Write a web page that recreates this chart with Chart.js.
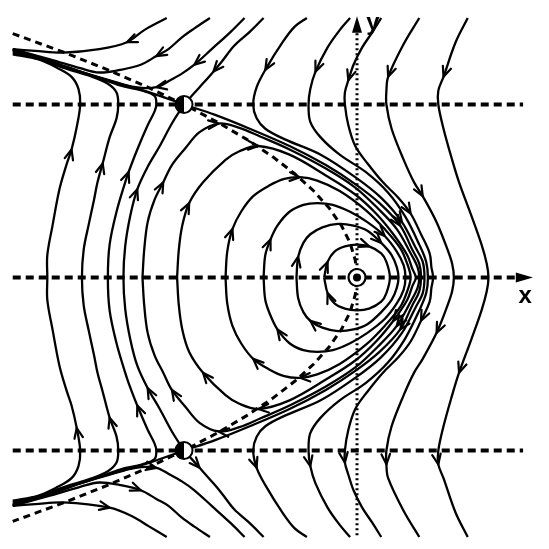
<!DOCTYPE html>
<html>
<head>
<meta charset="utf-8">
<title>Phase portrait</title>
<script src="https://cdn.jsdelivr.net/npm/chart.js@4.4.1/dist/chart.umd.min.js"></script>
<style>
  html, body { margin: 0; padding: 0; background: #fff; }
  #wrap { width: 549px; height: 549px; }
</style>
</head>
<body>
<div id="wrap"><canvas id="phase" width="549" height="549"></canvas></div>
<script>
// plot window
const xRange = [-2, 1];
const yRange = [-1.5, 1.5];

// equilibria
const saddles = [[-1, 1], [-1, -1]];
const centre = [0, 0];

// dashed guide lines
const lineYTop = [[-1.99, 1], [0.96, 1]];
const lineYBottom = [[-1.99, -1], [0.96, -1]];
const xAxisLine = [[-1.99, 0], [0.92, 0]];
const yAxisLine = [[0, -1.49], [0, 1.42]];
const parabola = [[-1.99, 1.41], [-1.69, 1.30], [-1.44, 1.20], [-1.21, 1.10], [-1.00, 1.00], [-0.81, 0.90],
  [-0.64, 0.80], [-0.49, 0.70], [-0.36, 0.60], [-0.25, 0.50], [-0.16, 0.40], [-0.09, 0.30], [-0.04, 0.20],
  [-0.01, 0.10], [0, 0], [-0.01, -0.10], [-0.04, -0.20], [-0.09, -0.30], [-0.16, -0.40], [-0.25, -0.50],
  [-0.36, -0.60], [-0.49, -0.70], [-0.64, -0.80], [-0.81, -0.90], [-1.00, -1.00], [-1.21, -1.10],
  [-1.44, -1.20], [-1.69, -1.30], [-1.99, -1.41]];

// trajectories, in the order of the flow
const topLeft1 = [[-1.10, 1.50], [-1.23, 1.43], [-1.33, 1.36], [-1.49, 1.32], [-1.70, 1.30], [-1.86, 1.31], [-1.99, 1.32]];
const topLeft2 = [[-0.85, 1.50], [-0.94, 1.44], [-1.01, 1.39], [-1.09, 1.32], [-1.16, 1.28], [-1.25, 1.23], [-1.37, 1.20],
  [-1.49, 1.185], [-1.60, 1.21], [-1.77, 1.26], [-1.99, 1.32]];
const topLeft3 = [[-0.65, 1.50], [-0.73, 1.42], [-0.84, 1.32], [-0.94, 1.23], [-1.01, 1.18], [-1.08, 1.14], [-1.16, 1.10],
  [-1.28, 1.10], [-1.43, 1.14], [-1.60, 1.19], [-1.77, 1.245], [-1.99, 1.315]];
const stableTop = [[-0.54, 1.50], [-0.62, 1.42], [-0.71, 1.34], [-0.78, 1.25], [-0.83, 1.19], [-0.91, 1.10], [-1.00, 1.00]];
const unstableLeftTop = [[-1.00, 1.00], [-1.20, 1.07], [-1.37, 1.12], [-1.54, 1.17], [-1.77, 1.25], [-1.99, 1.32]];

const botLeft1 = [[-1.99, -1.32], [-1.86, -1.31], [-1.70, -1.30], [-1.43, -1.33], [-1.30, -1.38], [-1.20, -1.44], [-1.10, -1.50]];
const botLeft2 = [[-1.99, -1.32], [-1.77, -1.26], [-1.60, -1.21], [-1.49, -1.185], [-1.37, -1.20], [-1.25, -1.23],
  [-1.16, -1.28], [-1.09, -1.32], [-1.01, -1.39], [-0.94, -1.44], [-0.85, -1.50]];
const botLeft3 = [[-1.99, -1.315], [-1.77, -1.245], [-1.60, -1.19], [-1.43, -1.14], [-1.28, -1.10], [-1.16, -1.10],
  [-1.08, -1.14], [-1.01, -1.18], [-0.94, -1.23], [-0.84, -1.32], [-0.73, -1.42], [-0.65, -1.50]];
const unstableBot = [[-1.00, -1.00], [-0.91, -1.10], [-0.83, -1.19], [-0.78, -1.25], [-0.71, -1.34], [-0.62, -1.42], [-0.54, -1.50]];
const stableLeftBot = [[-1.99, -1.32], [-1.77, -1.25], [-1.54, -1.17], [-1.37, -1.12], [-1.20, -1.07], [-1.00, -1.00]];

const outer1 = [[-0.29, 1.50], [-0.36, 1.45], [-0.43, 1.36], [-0.53, 1.20], [-0.58, 1.10], [-0.60, 1.00], [-0.58, 0.92],
  [-0.53, 0.86], [-0.42, 0.80], [-0.21, 0.71], [-0.01, 0.58], [0.14, 0.46], [0.26, 0.32], [0.34, 0.17], [0.38, 0.09],
  [0.39, 0], [0.38, -0.09], [0.34, -0.17], [0.26, -0.32], [0.14, -0.46], [-0.01, -0.58], [-0.21, -0.71], [-0.42, -0.80],
  [-0.53, -0.86], [-0.58, -0.92], [-0.60, -1.00], [-0.58, -1.10], [-0.53, -1.20], [-0.43, -1.36], [-0.36, -1.45], [-0.29, -1.50]];
const outer2 = [[-0.04, 1.50], [-0.10, 1.43], [-0.17, 1.33], [-0.24, 1.19], [-0.27, 1.09], [-0.28, 1.00], [-0.27, 0.90],
  [-0.21, 0.81], [-0.10, 0.71], [0.05, 0.61], [0.18, 0.49], [0.28, 0.35], [0.36, 0.19], [0.40, 0.09], [0.41, 0],
  [0.40, -0.09], [0.36, -0.19], [0.28, -0.35], [0.18, -0.49], [0.05, -0.61], [-0.10, -0.71], [-0.21, -0.81], [-0.27, -0.90],
  [-0.28, -1.00], [-0.27, -1.09], [-0.24, -1.19], [-0.17, -1.33], [-0.10, -1.43], [-0.04, -1.50]];
const outer3 = [[0.14, 1.50], [0.09, 1.42], [0.03, 1.33], [-0.02, 1.23], [-0.05, 1.14], [-0.07, 1.07], [-0.07, 1.00],
  [-0.05, 0.88], [-0.01, 0.76], [0.06, 0.66], [0.15, 0.55], [0.24, 0.46], [0.31, 0.37], [0.37, 0.25], [0.42, 0.14],
  [0.43, 0.06], [0.44, 0], [0.43, -0.06], [0.42, -0.14], [0.37, -0.25], [0.31, -0.37], [0.24, -0.46], [0.15, -0.55],
  [0.06, -0.66], [-0.01, -0.76], [-0.05, -0.88], [-0.07, -1.00], [-0.07, -1.07], [-0.05, -1.14], [-0.02, -1.23],
  [0.03, -1.33], [0.09, -1.42], [0.14, -1.50]];
const right1 = [[0.36, 1.50], [0.27, 1.35], [0.18, 1.16], [0.17, 1.08], [0.17, 1.00], [0.20, 0.86], [0.27, 0.68],
  [0.33, 0.55], [0.38, 0.47], [0.46, 0.32], [0.52, 0.17], [0.55, 0.08], [0.56, 0], [0.55, -0.08], [0.52, -0.17],
  [0.46, -0.32], [0.38, -0.47], [0.33, -0.55], [0.27, -0.68], [0.20, -0.86], [0.17, -1.00], [0.17, -1.08],
  [0.18, -1.16], [0.27, -1.35], [0.36, -1.50]];
const right2 = [[0.64, 1.50], [0.57, 1.36], [0.50, 1.16], [0.47, 1.08], [0.47, 1.00], [0.50, 0.86], [0.55, 0.68],
  [0.59, 0.55], [0.66, 0.36], [0.72, 0.19], [0.75, 0.08], [0.76, 0], [0.75, -0.08], [0.72, -0.19], [0.66, -0.36],
  [0.59, -0.55], [0.55, -0.68], [0.50, -0.86], [0.47, -1.00], [0.47, -1.08], [0.50, -1.16], [0.57, -1.36], [0.64, -1.50]];

const sepRight = [[-1.00, 1.00], [-0.82, 0.94], [-0.62, 0.86], [-0.39, 0.76], [-0.18, 0.65], [-0.01, 0.54], [0.13, 0.43],
  [0.25, 0.30], [0.32, 0.16], [0.36, 0.08], [0.37, 0], [0.36, -0.08], [0.32, -0.16], [0.25, -0.30], [0.13, -0.43],
  [-0.01, -0.54], [-0.18, -0.65], [-0.39, -0.76], [-0.62, -0.86], [-0.82, -0.94], [-1.00, -1.00]];
const sepLeft = [[-1.00, -1.00], [-1.07, -0.89], [-1.14, -0.76], [-1.21, -0.64], [-1.27, -0.51], [-1.31, -0.36],
  [-1.34, -0.18], [-1.35, 0], [-1.34, 0.18], [-1.31, 0.36], [-1.27, 0.51], [-1.21, 0.64], [-1.14, 0.76], [-1.07, 0.89], [-1.00, 1.00]];

const left1 = [[-1.99, -1.29], [-1.84, -1.26], [-1.73, -1.21], [-1.65, -1.16], [-1.61, -1.09], [-1.60, -1.00], [-1.62, -0.87],
  [-1.65, -0.74], [-1.68, -0.65], [-1.72, -0.51], [-1.76, -0.30], [-1.79, -0.13], [-1.79, 0], [-1.79, 0.13], [-1.76, 0.30],
  [-1.72, 0.51], [-1.68, 0.65], [-1.65, 0.74], [-1.62, 0.87], [-1.60, 1.00], [-1.61, 1.09], [-1.65, 1.16], [-1.73, 1.21],
  [-1.84, 1.26], [-1.99, 1.29]];
const left2 = [[-1.99, -1.30], [-1.83, -1.26], [-1.69, -1.21], [-1.53, -1.16], [-1.44, -1.12], [-1.39, -1.07], [-1.38, -1.00],
  [-1.39, -0.92], [-1.43, -0.81], [-1.47, -0.66], [-1.50, -0.55], [-1.52, -0.45], [-1.55, -0.31], [-1.58, -0.16], [-1.59, 0],
  [-1.58, 0.16], [-1.55, 0.31], [-1.52, 0.45], [-1.50, 0.55], [-1.47, 0.66], [-1.43, 0.81], [-1.39, 0.92], [-1.38, 1.00],
  [-1.39, 1.07], [-1.44, 1.12], [-1.53, 1.16], [-1.69, 1.21], [-1.83, 1.26], [-1.99, 1.30]];
const left3 = [[-1.99, -1.31], [-1.83, -1.26], [-1.69, -1.215], [-1.51, -1.16], [-1.37, -1.11], [-1.24, -1.08], [-1.17, -1.05],
  [-1.16, -1.00], [-1.17, -0.96], [-1.21, -0.88], [-1.27, -0.74], [-1.32, -0.61], [-1.34, -0.55], [-1.39, -0.38], [-1.43, -0.19],
  [-1.44, 0], [-1.43, 0.19], [-1.39, 0.38], [-1.34, 0.55], [-1.32, 0.61], [-1.27, 0.74], [-1.21, 0.88], [-1.17, 0.96],
  [-1.16, 1.00], [-1.17, 1.05], [-1.24, 1.08], [-1.37, 1.11], [-1.51, 1.16], [-1.69, 1.215], [-1.83, 1.26], [-1.99, 1.31]];

// closed orbits round the centre (clockwise)
const orbitA = [[-1.24, 0], [-1.23, 0.16], [-1.21, 0.32], [-1.17, 0.45], [-1.12, 0.55], [-1.07, 0.65], [-0.99, 0.75],
  [-0.91, 0.84], [-0.80, 0.89], [-0.68, 0.865], [-0.56, 0.815], [-0.39, 0.74], [-0.18, 0.63], [-0.01, 0.52], [0.12, 0.40],
  [0.23, 0.28], [0.31, 0.14], [0.35, 0.06], [0.36, 0], [0.35, -0.06], [0.31, -0.14], [0.23, -0.28], [0.12, -0.40],
  [-0.01, -0.52], [-0.18, -0.63], [-0.39, -0.74], [-0.56, -0.815], [-0.68, -0.865], [-0.80, -0.89], [-0.91, -0.84],
  [-0.99, -0.75], [-1.07, -0.65], [-1.12, -0.55], [-1.17, -0.45], [-1.21, -0.32], [-1.23, -0.16], [-1.24, 0]];
const orbitB = [[-1.04, 0], [-1.03, 0.16], [-1.01, 0.30], [-0.97, 0.43], [-0.89, 0.55], [-0.76, 0.68], [-0.68, 0.73],
  [-0.57, 0.76], [-0.39, 0.71], [-0.18, 0.59], [-0.01, 0.48], [0.11, 0.37], [0.21, 0.25], [0.29, 0.13], [0.32, 0.05],
  [0.34, 0], [0.32, -0.05], [0.29, -0.13], [0.21, -0.25], [0.11, -0.37], [-0.01, -0.48], [-0.18, -0.59], [-0.39, -0.71],
  [-0.57, -0.76], [-0.68, -0.73], [-0.76, -0.68], [-0.89, -0.55], [-0.97, -0.43], [-1.01, -0.30], [-1.03, -0.16], [-1.04, 0]];
const orbitC = [[-0.76, 0], [-0.75, 0.15], [-0.72, 0.28], [-0.67, 0.38], [-0.60, 0.47], [-0.51, 0.53], [-0.42, 0.57],
  [-0.33, 0.58], [-0.23, 0.56], [-0.10, 0.50], [0.05, 0.39], [0.16, 0.28], [0.25, 0.17], [0.29, 0.08], [0.31, 0],
  [0.29, -0.08], [0.25, -0.17], [0.16, -0.28], [0.05, -0.39], [-0.10, -0.50], [-0.23, -0.56], [-0.33, -0.58],
  [-0.42, -0.57], [-0.51, -0.53], [-0.60, -0.47], [-0.67, -0.38], [-0.72, -0.28], [-0.75, -0.15], [-0.76, 0]];
const orbitD = [[-0.54, 0], [-0.53, 0.13], [-0.50, 0.22], [-0.46, 0.30], [-0.39, 0.38], [-0.31, 0.42], [-0.23, 0.43],
  [-0.14, 0.42], [-0.04, 0.38], [0.06, 0.32], [0.16, 0.24], [0.23, 0.15], [0.27, 0.07], [0.28, 0], [0.27, -0.07],
  [0.23, -0.15], [0.16, -0.24], [0.06, -0.32], [-0.04, -0.38], [-0.14, -0.42], [-0.23, -0.43], [-0.31, -0.42],
  [-0.39, -0.38], [-0.46, -0.30], [-0.50, -0.22], [-0.53, -0.13], [-0.54, 0]];
const orbitE = [[-0.35, 0], [-0.34, 0.12], [-0.31, 0.20], [-0.27, 0.25], [-0.20, 0.29], [-0.11, 0.31], [-0.02, 0.30],
  [0.06, 0.27], [0.14, 0.20], [0.20, 0.13], [0.23, 0.06], [0.24, 0], [0.23, -0.06], [0.20, -0.13], [0.14, -0.20],
  [0.06, -0.27], [-0.02, -0.30], [-0.11, -0.31], [-0.20, -0.29], [-0.27, -0.25], [-0.31, -0.20], [-0.34, -0.12], [-0.35, 0]];
const orbitF = [[-0.19, 0], [-0.17, 0.09], [-0.13, 0.15], [-0.07, 0.18], [0, 0.19], [0.07, 0.18], [0.14, 0.14],
  [0.17, 0.09], [0.19, 0], [0.17, -0.09], [0.14, -0.14], [0.07, -0.18], [0, -0.19], [-0.07, -0.18], [-0.13, -0.15],
  [-0.17, -0.09], [-0.19, 0]];

// each trajectory with the indices of the points that carry an arrowhead
const flowLines = [
  { pts: topLeft1, arrows: [2] },
  { pts: topLeft2, arrows: [4] },
  { pts: topLeft3, arrows: [3, 6] },
  { pts: stableTop, arrows: [4] },
  { pts: unstableLeftTop, arrows: [] },
  { pts: botLeft1, arrows: [3] },
  { pts: botLeft2, arrows: [5] },
  { pts: botLeft3, arrows: [5] },
  { pts: unstableBot, arrows: [1] },
  { pts: stableLeftBot, arrows: [] },
  { pts: outer1, arrows: [3, 12, 26] },
  { pts: outer2, arrows: [3, 24] },
  { pts: outer3, arrows: [4, 12, 19, 27] },
  { pts: right1, arrows: [2, 8, 15, 21] },
  { pts: right2, arrows: [2, 15, 19] },
  { pts: sepRight, arrows: [7, 13] },
  { pts: sepLeft, arrows: [3, 10] },
  { pts: left1, arrows: [6, 17] },
  { pts: left2, arrows: [8, 19] },
  { pts: left3, arrows: [10, 19] },
  { pts: orbitA, arrows: [4, 8, 21, 28, 31] },
  { pts: orbitB, arrows: [3, 7, 18, 23, 26] },
  { pts: orbitC, arrows: [2, 7, 21, 24] },
  { pts: orbitD, arrows: [2, 10, 23] },
  { pts: orbitE, arrows: [1, 8, 19] },
  { pts: orbitF, arrows: [1, 5, 15] }
];

function toXY(pts) {
  return pts.map(p => ({ x: p[0], y: p[1] }));
}

function guide(pts, dash, width) {
  return {
    data: toXY(pts), showLine: true, borderColor: '#000', borderWidth: width,
    borderDash: dash, pointRadius: 0, tension: 0, clip: false, order: 2
  };
}

const datasets = [
  guide(lineYTop, [8, 5], 4),
  guide(lineYBottom, [8, 5], 4),
  guide(xAxisLine, [8, 5], 4),
  guide(yAxisLine, [2, 3], 3),
  guide(parabola, [7, 5], 3)
];
flowLines.forEach(f => {
  datasets.push({
    data: toXY(f.pts), showLine: true, borderColor: '#000', borderWidth: 2.3,
    pointRadius: 0, tension: 0.35, clip: false, order: 1
  });
});

// arrowheads along the trajectories
const arrowPlugin = {
  id: 'flowArrows',
  afterDatasetsDraw(chart) {
    const ctx = chart.ctx, xs = chart.scales.x, ys = chart.scales.y;
    ctx.save();
    ctx.strokeStyle = '#000';
    ctx.lineWidth = 2.2;
    ctx.lineCap = 'round';
    ctx.lineJoin = 'round';
    flowLines.forEach(f => {
      f.arrows.forEach(i => {
        const p = f.pts[i];
        const a = f.pts[Math.max(i - 1, 0)];
        const b = f.pts[Math.min(i + 1, f.pts.length - 1)];
        const px = xs.getPixelForValue(p[0]), py = ys.getPixelForValue(p[1]);
        const ang = Math.atan2(ys.getPixelForValue(b[1]) - ys.getPixelForValue(a[1]),
                               xs.getPixelForValue(b[0]) - xs.getPixelForValue(a[0]));
        ctx.beginPath();
        ctx.moveTo(px - 11 * Math.cos(ang - 0.4), py - 11 * Math.sin(ang - 0.4));
        ctx.lineTo(px, py);
        ctx.lineTo(px - 11 * Math.cos(ang + 0.4), py - 11 * Math.sin(ang + 0.4));
        ctx.stroke();
      });
    });
    ctx.restore();
  }
};

// equilibrium markers, axis arrowheads and axis names
const markerPlugin = {
  id: 'markers',
  afterDraw(chart) {
    const ctx = chart.ctx, xs = chart.scales.x, ys = chart.scales.y;
    ctx.save();
    ctx.fillStyle = '#000';

    // y axis arrowhead
    const ax = xs.getPixelForValue(0);
    ctx.beginPath();
    ctx.moveTo(ax, ys.getPixelForValue(1.51));
    ctx.lineTo(ax - 5, ys.getPixelForValue(1.415));
    ctx.lineTo(ax + 5, ys.getPixelForValue(1.415));
    ctx.closePath();
    ctx.fill();

    // x axis arrowhead
    const ay = ys.getPixelForValue(0);
    ctx.beginPath();
    ctx.moveTo(xs.getPixelForValue(1.017), ay);
    ctx.lineTo(xs.getPixelForValue(0.918), ay - 5);
    ctx.lineTo(xs.getPixelForValue(0.918), ay + 5);
    ctx.closePath();
    ctx.fill();

    // saddles: left half filled
    saddles.forEach(s => {
      const x = xs.getPixelForValue(s[0]), y = ys.getPixelForValue(s[1]);
      ctx.beginPath();
      ctx.arc(x, y, 8.5, 0, Math.PI * 2);
      ctx.fillStyle = '#fff';
      ctx.fill();
      ctx.beginPath();
      ctx.arc(x, y, 8.5, Math.PI / 2, Math.PI * 1.5);
      ctx.closePath();
      ctx.fillStyle = '#000';
      ctx.fill();
      ctx.beginPath();
      ctx.arc(x, y, 8.5, 0, Math.PI * 2);
      ctx.lineWidth = 2;
      ctx.strokeStyle = '#000';
      ctx.stroke();
    });

    // centre: dot inside a ring
    const cx = xs.getPixelForValue(centre[0]), cy = ys.getPixelForValue(centre[1]);
    ctx.beginPath();
    ctx.arc(cx, cy, 8.5, 0, Math.PI * 2);
    ctx.fillStyle = '#fff';
    ctx.fill();
    ctx.lineWidth = 2.2;
    ctx.strokeStyle = '#000';
    ctx.stroke();
    ctx.beginPath();
    ctx.arc(cx, cy, 4, 0, Math.PI * 2);
    ctx.fillStyle = '#000';
    ctx.fill();

    // axis names
    ctx.font = 'bold 24px "Liberation Sans", Arial, sans-serif';
    ctx.textAlign = 'center';
    ctx.textBaseline = 'alphabetic';
    ctx.fillText('x', xs.getPixelForValue(0.972), ys.getPixelForValue(-0.145));
    ctx.fillText('y', xs.getPixelForValue(0.092), ys.getPixelForValue(1.43));
    ctx.restore();
  }
};

new Chart(document.getElementById('phase'), {
  type: 'scatter',
  data: { datasets: datasets },
  options: {
    responsive: false,
    animation: false,
    devicePixelRatio: 1,
    layout: { padding: { left: 11, right: 19, top: 18, bottom: 12 } },
    scales: {
      x: { type: 'linear', min: xRange[0], max: xRange[1], display: false },
      y: { type: 'linear', min: yRange[0], max: yRange[1], display: false }
    },
    plugins: { legend: { display: false }, tooltip: { enabled: false } }
  },
  plugins: [arrowPlugin, markerPlugin]
});
</script>
</body>
</html>
